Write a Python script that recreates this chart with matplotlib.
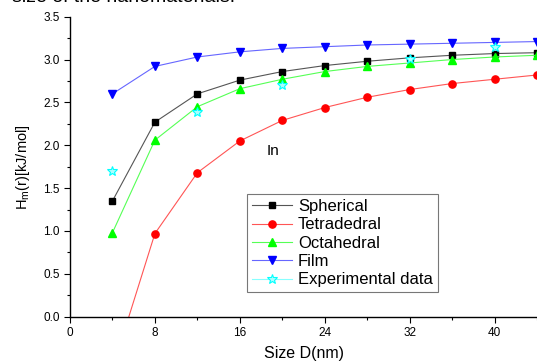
import matplotlib
matplotlib.use("Agg")
import matplotlib.pyplot as plt
from matplotlib.lines import Line2D
from matplotlib.ticker import MultipleLocator

plt.rcParams['font.family'] = ['Liberation Sans', 'DejaVu Sans']

# Data
size_nm = [4, 8, 12, 16, 20, 24, 28, 32, 36, 40, 44]
spherical = [1.35, 2.27, 2.60, 2.76, 2.86, 2.93, 2.98, 3.02, 3.05, 3.07, 3.08]
tetradedral = [-0.61, 0.97, 1.68, 2.05, 2.29, 2.44, 2.56, 2.65, 2.72, 2.77, 2.82]
octahedral = [0.98, 2.06, 2.45, 2.66, 2.77, 2.86, 2.92, 2.96, 3.00, 3.03, 3.05]
film = [2.60, 2.92, 3.03, 3.09, 3.13, 3.15, 3.17, 3.18, 3.19, 3.20, 3.21]
exp_size = [4, 12, 20, 32, 40]
exp_values = [1.70, 2.39, 2.70, 3.01, 3.15]

x_ticks = [0, 8, 16, 24, 32, 40]
y_ticks = [0.0, 0.5, 1.0, 1.5, 2.0, 2.5, 3.0, 3.5]

fig = plt.figure(figsize=(5.37, 3.62), dpi=100)
W, H = 537, 362
ax = fig.add_axes([70 / W, (H - 316.7) / H, (537 - 70) / W, (316.7 - 16.7) / H])

styles = {
    'Spherical': dict(color='#555555', marker='s', ms=4.8, mfc='black', mec='black'),
    'Tetradedral': dict(color='#ff5555', marker='o', ms=5.2, mfc='red', mec='red'),
    'Octahedral': dict(color='#55ff55', marker='^', ms=6, mfc='#00ff00', mec='#00ff00'),
    'Film': dict(color='#6666ff', marker='v', ms=6, mfc='blue', mec='blue'),
}
exp_style = dict(marker='*', ms=7, mfc='#aaffff', mec='#00ffff', mew=0.8)

ax.plot(size_nm, spherical, lw=0.8, **styles['Spherical'])
ax.plot(size_nm, tetradedral, lw=0.8, **styles['Tetradedral'])
ax.plot(size_nm, octahedral, lw=0.8, **styles['Octahedral'])
ax.plot(size_nm, film, lw=0.8, **styles['Film'])
ax.plot(exp_size, exp_values, ls='none', **exp_style)

labels = ['Spherical', 'Tetradedral', 'Octahedral', 'Film', 'Experimental data']
handles = [Line2D([], [], lw=0.8, **styles[k]) for k in labels[:4]]
handles.append(Line2D([], [], color='#88ffff', lw=0.8, **exp_style))
leg = ax.legend(handles, labels, loc='upper left',
                bbox_to_anchor=(177 / 467, 1 - (194 - 16.7) / 300),
                fontsize=12, frameon=True, fancybox=False, edgecolor='#555555',
                handlelength=2.4, handletextpad=0.35, borderpad=0.3, labelspacing=0.2,
                borderaxespad=0)
leg.get_frame().set_linewidth(0.8)

ax.text(19.1, 1.93, 'In', fontsize=11, ha='center', va='center')

ax.set_xlim(0, 44)
ax.set_ylim(0, 3.5)
ax.set_xticks(x_ticks)
ax.set_yticks(y_ticks)
ax.set_yticklabels([f'{v:.1f}' for v in y_ticks])
ax.xaxis.set_minor_locator(MultipleLocator(4))
ax.yaxis.set_minor_locator(MultipleLocator(0.25))
ax.tick_params(which='both', direction='out', labelsize=8.5, width=0.8)
ax.tick_params(which='major', length=4)
ax.tick_params(which='minor', length=2.5)
for side in ['top', 'right']:
    ax.spines[side].set_visible(False)
for side in ['left', 'bottom']:
    ax.spines[side].set_linewidth(1.0)

ax.set_xlabel('Size D(nm)', fontsize=11.5, labelpad=5)
ax.set_ylabel('H$_\\mathregular{m}$(r)[kJ/mol]', fontsize=10.5, labelpad=8)

# title cut off at the top edge of the reference image
fig.text(12 / W, 1 - 2 / H, 'size of the nanomaterials.', fontsize=14,
         ha='left', va='baseline')

fig.savefig('out.png', dpi=100)
